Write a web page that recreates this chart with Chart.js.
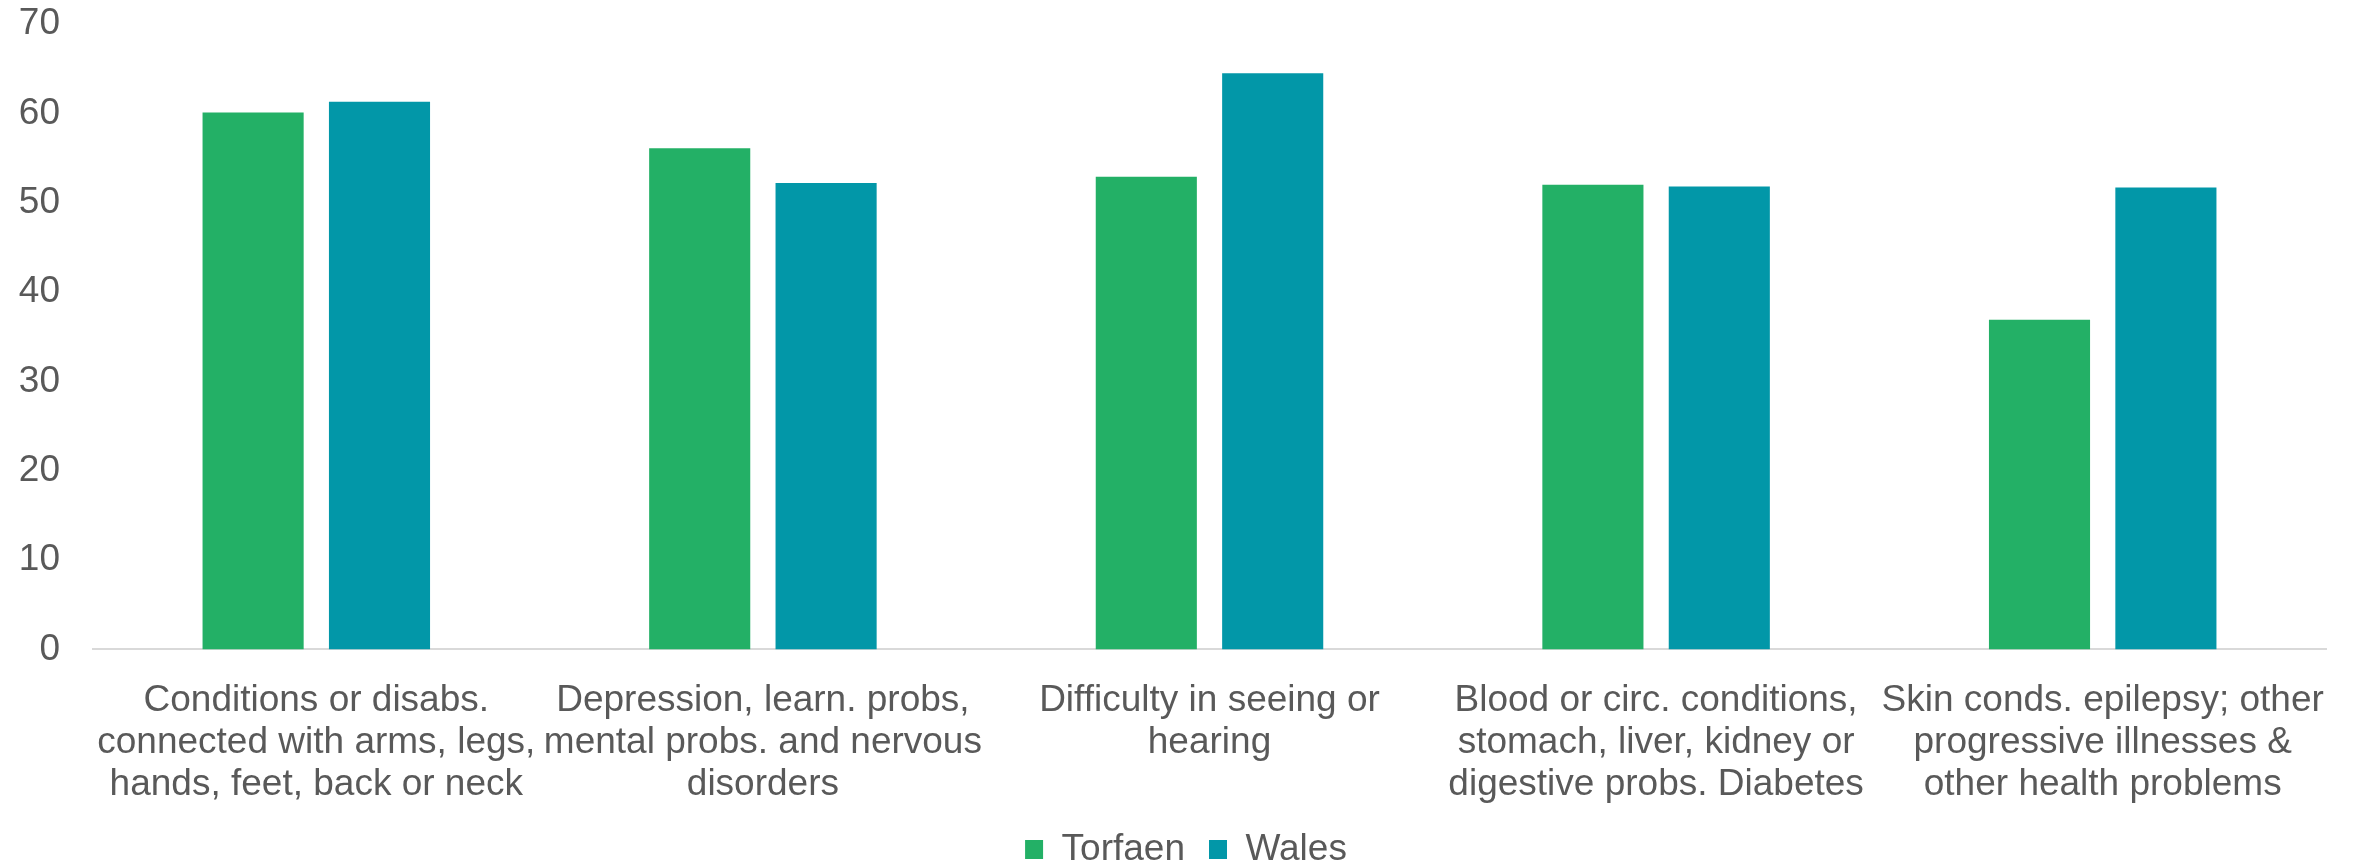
<!DOCTYPE html>
<html>
<head>
<meta charset="utf-8">
<script src="https://cdn.jsdelivr.net/npm/chart.js@4"></script>
<style>
    body { margin: 0; background: #ffffff; }
    #wrap { width: 2361px; height: 865px; position: relative; }
</style>
</head>
<body>
<div id="wrap"><canvas id="barChartHealth"></canvas></div>
<script>
var categories = [
    ["Conditions or disabs.", "connected with arms, legs,", "hands, feet, back or neck"],
    ["Depression, learn. probs,", "mental probs. and nervous", "disorders"],
    ["Difficulty in seeing or", "hearing"],
    ["Blood or circ. conditions,", "stomach, liver, kidney or", "digestive probs. Diabetes"],
    ["Skin conds. epilepsy; other", "progressive illnesses &", "other health problems"]
];
var torfaen = [60.1, 56.1, 52.9, 52.0, 36.9];
var wales = [61.3, 52.2, 64.5, 51.8, 51.7];
var seriesNames = ["Torfaen", "Wales"];

var txtColor = '#595959';
var fontFam = "'Liberation Sans', Arial, sans-serif";

// nudge the legend a bit right, the original is not centred on the canvas
var legendShift = {
    id: 'legendShift',
    afterLayout: function (chart) {
        if (chart.legend) {
            chart.legend.left += 23;
            chart.legend.right += 23;
        }
    }
};

var chartDiv = document.getElementById("barChartHealth");
var myChart = new Chart(chartDiv, {
    type: 'bar',
    data: {
        labels: categories,
        datasets: [
            {
                label: seriesNames[0],
                data: torfaen,
                backgroundColor: "#23B066",
                categoryPercentage: 0.566,
                barPercentage: 0.8
            },
            {
                label: seriesNames[1],
                data: wales,
                backgroundColor: "#0297A8",
                categoryPercentage: 0.566,
                barPercentage: 0.8
            }]
    },
    plugins: [legendShift],
    options: {
        responsive: true,
        maintainAspectRatio: false,
        animation: false,
        layout: {
            padding: { left: 0, right: 35, top: 0, bottom: -13 }
        },
        plugins: {
            title: { display: false },
            tooltip: { enabled: false },
            legend: {
                display: true,
                position: 'bottom',
                labels: {
                    boxWidth: 18,
                    boxHeight: 19,
                    padding: 24,
                    color: txtColor,
                    font: { family: fontFam, size: 37 }
                }
            }
        },
        scales: {
            x: {
                grid: { display: false, drawTicks: false },
                border: { display: true, color: '#D9D9D9', width: 2 },
                afterFit: function (scale) { scale.height = scale.height - 29; },
                ticks: {
                    color: txtColor,
                    maxRotation: 0,
                    autoSkip: false,
                    padding: 30,
                    font: { family: fontFam, size: 37, lineHeight: 1.14 }
                }
            },
            y: {
                min: 0,
                max: 70,
                grid: { display: false, drawTicks: false },
                border: { display: false },
                afterFit: function (scale) {
                    scale.width = 93;
                    scale.paddingTop = 24;
                    scale.paddingBottom = 0;
                },
                ticks: {
                    stepSize: 10,
                    color: txtColor,
                    padding: 33,
                    font: { family: fontFam, size: 37 }
                }
            }
        }
    }
});
</script>
</body>
</html>
